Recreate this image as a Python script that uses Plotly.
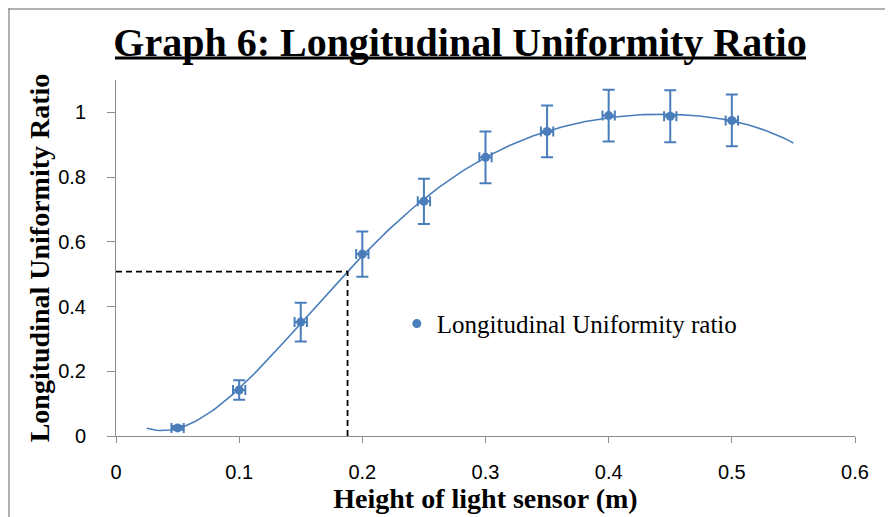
import numpy as np
import plotly.graph_objects as go

# ---- data ----
heights = [0.05, 0.10, 0.15, 0.20, 0.25, 0.30, 0.35, 0.40, 0.45, 0.50]
ratio = [0.025, 0.142, 0.352, 0.562, 0.725, 0.861, 0.941, 0.990, 0.988, 0.975]
ratio_err = [0.006, 0.03, 0.06, 0.07, 0.07, 0.08, 0.08, 0.08, 0.08, 0.08]
height_err = [0.005] * 10
trend_range = [0.025, 0.55]
trend_order = 5
guide_x = [0.0, 0.188, 0.188]
guide_y = [0.508, 0.508, 0.0]
x_ticks = [0, 0.1, 0.2, 0.3, 0.4, 0.5, 0.6]
y_ticks = [0, 0.2, 0.4, 0.6, 0.8, 1]

BLUE = "#4A7EBB"

# polynomial trendline fitted to the data
coef = np.polyfit(heights, ratio, trend_order)
tx = np.linspace(trend_range[0], trend_range[1], 200)
ty = np.polyval(coef, tx)

fig = go.Figure()
fig.add_trace(go.Scatter(x=tx, y=ty, mode="lines", line=dict(color=BLUE, width=1.6),
                         showlegend=False, hoverinfo="skip"))
fig.add_trace(go.Scatter(x=guide_x, y=guide_y, mode="lines",
                         line=dict(color="black", width=1.8, dash="6px,4px"),
                         showlegend=False, hoverinfo="skip"))
fig.add_trace(go.Scatter(
    x=heights, y=ratio, mode="markers", name="Longitudinal Uniformity ratio",
    marker=dict(color=BLUE, size=9),
    error_y=dict(type="data", array=ratio_err, color=BLUE, thickness=2, width=6),
    error_x=dict(type="data", array=height_err, color=BLUE, thickness=2, width=5),
))

W, H = 885, 509
L, R, T, B = 108, 38, 72, 81
PW, PH = W - L - R, H - T - B


def px(fx):
    return (fx - L) / PW


def py(fy):
    return (H - B - fy) / PH


fig.update_layout(
    width=W, height=H,
    margin=dict(l=L, r=R, t=T, b=B),
    paper_bgcolor="white", plot_bgcolor="white",
    title=dict(text="<b>Graph 6: Longitudinal Uniformity Ratio</b>", x=0.5107, xanchor="center",
               y=0.934, yanchor="middle", yref="container",
               font=dict(family="Liberation Serif", size=40, color="black")),
    xaxis=dict(range=[0, 0.6], tickvals=x_ticks, ticktext=[f"{v:g}" for v in x_ticks],
               showgrid=False, zeroline=False, showline=True, linecolor="#8c8c8c", linewidth=1,
               ticks="outside", ticklen=6, tickcolor="#8c8c8c", automargin=False,
               tickfont=dict(family="Liberation Sans", size=20, color="black"),
               ticklabelstandoff=12,
               title=dict(text="<b>Height of light sensor (m)</b>", standoff=3,
                          font=dict(family="Liberation Serif", size=28, color="black"))),
    yaxis=dict(range=[0, 1.1], tickvals=y_ticks, ticktext=[f"{v:g}" for v in y_ticks],
               showgrid=False, zeroline=False, showline=True, linecolor="#8c8c8c", linewidth=1,
               ticks="outside", ticklen=8, tickcolor="#8c8c8c", automargin=False,
               tickfont=dict(family="Liberation Sans", size=20, color="black"),
               ticklabelstandoff=17,
               title=dict(text="<b>Longitudinal Uniformity Ratio</b>", standoff=0,
                          font=dict(family="Liberation Serif", size=28, color="black"))),
    legend=dict(x=0.380, y=0.315, xanchor="left", yanchor="middle",
                bgcolor="rgba(0,0,0,0)",
                font=dict(family="Liberation Serif", size=25, color="black")),
    shapes=[
        # title underline
        dict(type="line", xref="paper", yref="paper", x0=px(107), x1=px(798),
             y0=py(50), y1=py(50), line=dict(color="black", width=3)),
        # chart frame (left and top edges)
        dict(type="line", xref="paper", yref="paper", x0=px(1), x1=px(1),
             y0=py(0), y1=py(H + 5), line=dict(color="#999999", width=1.5)),
        dict(type="line", xref="paper", yref="paper", x0=px(0), x1=px(W + 5),
             y0=py(1), y1=py(1), line=dict(color="#999999", width=1.5)),
    ],
)

fig.write_html("out.html")
